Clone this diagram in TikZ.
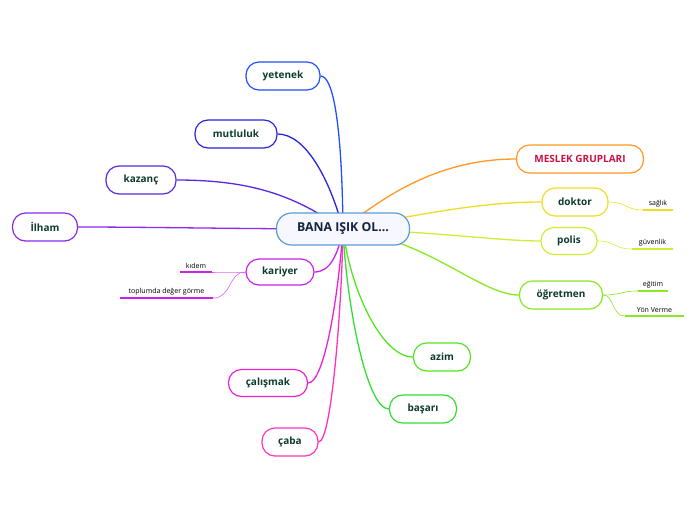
\documentclass[tikz,border=0pt]{standalone}
\usepackage{fontspec}
\setmainfont{Open Sans}
\usepackage{tikz}
\usetikzlibrary{backgrounds}

\definecolor{leaf}{HTML}{0E3B2E}
\definecolor{rootline}{HTML}{5B9BD5}
\definecolor{roottext}{HTML}{14233F}
\definecolor{cYet}{HTML}{2050FF}
\definecolor{cMut}{HTML}{2626E0}
\definecolor{cKaz}{HTML}{5A28E0}
\definecolor{cIlh}{HTML}{8A2BEE}
\definecolor{cKar}{HTML}{CC22EE}
\definecolor{cCal}{HTML}{EE22CC}
\definecolor{cCab}{HTML}{FF33BB}
\definecolor{cBas}{HTML}{33DD33}
\definecolor{cAzi}{HTML}{55E622}
\definecolor{cOgr}{HTML}{88E822}
\definecolor{cPol}{HTML}{CCEE33}
\definecolor{cDok}{HTML}{EEDD22}
\definecolor{cMes}{HTML}{FF9922}
\definecolor{mestext}{HTML}{CC1144}

\begin{document}
\begin{tikzpicture}[
        x=1pt, y=-1pt,
        topic/.style={
            draw,
            line width=1.2pt,
            rounded corners=13pt,
            fill=white,
            minimum height=28pt,
            inner xsep=15pt,
            font=\fontsize{10}{12}\selectfont\bfseries,
            text=leaf
        },
        sub/.style={
            anchor=south,
            inner xsep=0pt,
            inner ysep=3pt,
            font=\fontsize{7}{8}\selectfont
        },
        branch/.style={line width=1.3pt},
        twig/.style={line width=0.6pt},
        uline/.style={line width=1.8pt}
    ]
    \useasboundingbox (0,0) rectangle (696,520);

    % central topic
    \node[topic, draw=rootline, fill=blue!3, text=roottext, minimum width=133pt,
          minimum height=32pt, rounded corners=15pt,
          font=\fontsize{12.3}{14}\selectfont\bfseries] (root) at (343,229) {BANA IŞIK OL...};

    % left side
    \node[topic, draw=cYet, minimum width=74pt] (yet) at (283,76) {yetenek};
    \node[topic, draw=cMut, minimum width=82pt] (mut) at (236,134) {mutluluk};
    \node[topic, draw=cKaz, minimum width=70pt] (kaz) at (141,180) {kazanç};
    \node[topic, draw=cIlh, minimum width=65pt] (ilh) at (45,227) {İlham};
    \node[topic, draw=cKar, minimum width=68pt, minimum height=26pt] (kar) at (280,272) {kariyer};
    \node[topic, draw=cCal, minimum width=79pt, minimum height=27pt] (cal) at (268,383) {çalışmak};
    \node[topic, draw=cCab, minimum width=56pt] (cab) at (290,442) {çaba};

    % bottom / right side
    \node[topic, draw=cAzi, minimum width=57pt] (azi) at (442,357) {azim};
    \node[topic, draw=cBas, minimum width=67pt] (bas) at (423,409) {başarı};
    \node[topic, draw=cOgr, minimum width=83pt] (ogr) at (561,295) {öğretmen};
    \node[topic, draw=cPol, minimum width=56pt, minimum height=27pt] (pol) at (569,241) {polis};
    \node[topic, draw=cDok, minimum width=66pt] (dok) at (575,202) {doktor};
    \node[topic, draw=cMes, text=mestext, minimum width=127pt,
          font=\fontsize{10}{12}\selectfont\bfseries] (mes) at (580,159) {MESLEK GRUPLARI};

    % subtopics
    \node[sub, minimum width=32pt] (kidem) at (196,272) {kıdem};
    \node[sub, minimum width=93pt] (toplum) at (166.5,298) {toplumda değer görme};
    \node[sub, minimum width=30pt] (saglik) at (658,210) {sağlık};
    \node[sub, minimum width=41pt] (guven) at (652.5,249) {güvenlik};
    \node[sub, minimum width=30pt] (egitim) at (653,291) {eğitim};
    \node[sub, minimum width=59pt] (yon) at (654.5,316) {Yön Verme};

    \draw[uline, cKar] (kidem.south west) -- (kidem.south east);
    \draw[uline, cKar] (toplum.south west) -- (toplum.south east);
    \draw[uline, cDok] (saglik.south west) -- (saglik.south east);
    \draw[uline, cPol] (guven.south west) -- (guven.south east);
    \draw[uline, cOgr] (egitim.south west) -- (egitim.south east);
    \draw[uline, cOgr] (yon.south west) -- (yon.south east);

    \begin{scope}[on background layer]
        \draw[branch, cYet] (root.center) .. controls (342,130) and (334,76) .. (yet.east);
        \draw[branch, cMut] (root.center) .. controls (330,180) and (306,134) .. (mut.east);
        \draw[branch, cKaz] (root.center) .. controls (300,200) and (260,180) .. (kaz.east);
        \draw[branch, cIlh] (root.center) .. controls (250,229) and (150,227) .. (ilh.east);
        \draw[branch, cKar] (root.center) .. controls (338,255) and (330,272) .. (kar.east);
        \draw[branch, cCal] (root.center) .. controls (338,300) and (324,383) .. (cal.east);
        \draw[branch, cCab] (root.center) .. controls (342,300) and (332,442) .. (cab.east);
        \draw[branch, cAzi] (root.center) .. controls (350,290) and (382,357) .. (azi.west);
        \draw[branch, cBas] (root.center) .. controls (346,300) and (366,409) .. (bas.west);
        \draw[branch, cOgr] (root.center) .. controls (430,240) and (480,295) .. (ogr.west);
        \draw[branch, cPol] (root.center) .. controls (440,232) and (500,241) .. (pol.west);
        \draw[branch, cDok] (root.center) .. controls (440,210) and (490,202) .. (dok.west);
        \draw[branch, cMes] (root.center) .. controls (385,195) and (440,159) .. (mes.west);

        \draw[twig, cKar!70] (kar.west) .. controls (232,272) and (226,272) .. (kidem.south east);
        \draw[twig, cKar!70] (kar.west) .. controls (228,272) and (232,298) .. (toplum.south east);
        \draw[twig, cDok] (dok.east) .. controls (626,202) and (626,210) .. (saglik.south west);
        \draw[twig, cPol] (pol.east) .. controls (616,241) and (614,249) .. (guven.south west);
        \draw[twig, cOgr] (ogr.east) .. controls (622,295) and (620,291) .. (egitim.south west);
        \draw[twig, cOgr] (ogr.east) .. controls (614,295) and (612,316) .. (yon.south west);
    \end{scope}
\end{tikzpicture}
\end{document}
